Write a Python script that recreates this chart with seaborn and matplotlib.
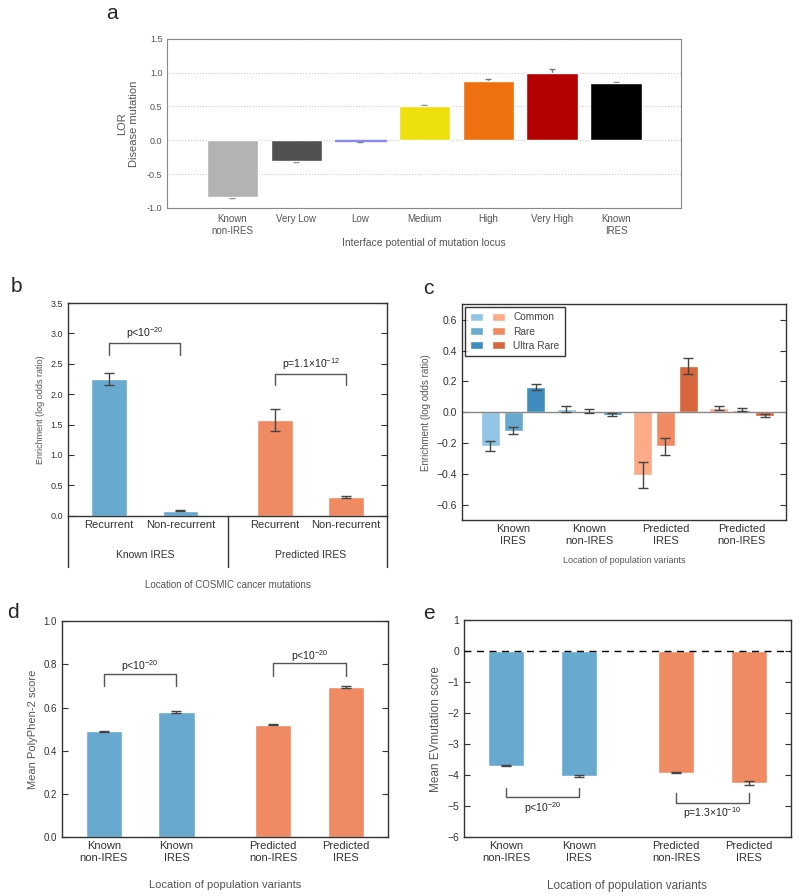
import pandas as pd
import seaborn as sns
import matplotlib
matplotlib.use('Agg')
import matplotlib.pyplot as plt
from matplotlib.patches import Patch
from matplotlib.container import BarContainer
from matplotlib.legend_handler import HandlerTuple
from matplotlib.ticker import FuncFormatter

sns.set_style('white')
plt.rcParams['font.family'] = ['Liberation Sans', 'DejaVu Sans']
plt.rcParams['mathtext.fontset'] = 'custom'
plt.rcParams['mathtext.rm'] = 'Liberation Sans'
plt.rcParams['mathtext.it'] = 'Liberation Sans:italic'
plt.rcParams['mathtext.bf'] = 'Liberation Sans:bold'

# ---- data ----
# a
a_labels = ['Known\nnon-IRES', 'Very Low', 'Low', 'Medium', 'High', 'Very High', 'Known\nIRES']
a_values = [-0.84, -0.30, -0.015, 0.50, 0.877, 1.00, 0.853]
a_errors = [0.01, 0.015, 0.01, 0.02, 0.035, 0.055, 0.01]
a_colors = ['#b3b3b3', '#505050', '#8a8af0', '#eee00c', '#ef700e', '#b50000', '#000000']

# b
b_labels = ['Recurrent', 'Non-recurrent', 'Recurrent', 'Non-recurrent']
b_groups = ['Known IRES', 'Predicted IRES']
b_values = [2.25, 0.08, 1.57, 0.31]
b_errors = [0.095, 0.01, 0.18, 0.01]

# c
c_locations = ['Known\nIRES', 'Known\nnon-IRES', 'Predicted\nIRES', 'Predicted\nnon-IRES']
c_classes = ['Common', 'Rare', 'Ultra Rare']
c_common = [-0.222, 0.022, -0.408, 0.027]
c_rare = [-0.12, 0.01, -0.222, 0.015]
c_ultra = [0.161, -0.015, 0.30, -0.022]
c_common_err = [0.032, 0.02, 0.084, 0.012]
c_rare_err = [0.021, 0.014, 0.057, 0.01]
c_ultra_err = [0.02, 0.012, 0.05, 0.01]

# d, e
de_labels = ['Known\nnon-IRES', 'Known\nIRES', 'Predicted\nnon-IRES', 'Predicted\nIRES']
d_values = [0.49, 0.579, 0.52, 0.696]
d_errors = [0.003, 0.004, 0.002, 0.005]
e_values = [-3.69, -4.02, -3.91, -4.24]
e_errors = [0.02, 0.02, 0.015, 0.07]

# ---- style ----
blue = '#67a9cf'
orange = '#ef8a62'
blues = ['#92c5e6', '#67a9cf', '#3f8dbf']
oranges = ['#fcaa88', '#ef8a62', '#d6663c']
pair_pos = [0, 1, 2.333, 3.333]
pair_colors = [blue, blue, orange, orange]
err_color = '#444444'
label_color = '#555555'
tick_color = '#333333'

fig = plt.figure(figsize=(8, 8.96), dpi=100)


def frame(ax, color='#333333'):
    for s in ax.spines.values():
        s.set_visible(True)
        s.set_color(color)
        s.set_linewidth(1.0)
    ax.tick_params(axis='y', direction='in', left=True, right=True, length=4,
                   color=color, labelsize=7, labelcolor=tick_color)
    ax.tick_params(axis='x', length=0, labelsize=8, labelcolor=tick_color, pad=3)


def bracket(ax, x1, x2, y_leg, y_bar, text, y_text):
    ax.plot([x1, x1, x2, x2], [y_leg, y_bar, y_bar, y_leg], color='#555555', lw=1.0)
    ax.text((x1 + x2) / 2, y_text, text, ha='center', va='center', fontsize=7.5, color='#222222')


def pair_panel(ax, values, errors):
    df = pd.DataFrame({'pos': pair_pos, 'value': values, 'grp': [str(p) for p in pair_pos]})
    sns.barplot(data=df, x='pos', y='value', hue='grp', palette=pair_colors, native_scale=True,
                dodge=False, width=0.5, saturation=1, errorbar=None, legend=False, ax=ax,
                zorder=2)
    ax.errorbar(pair_pos, values, yerr=errors, fmt='none', ecolor=err_color, elinewidth=1,
                capsize=3.5, capthick=1, zorder=3)
    ax.set_xlim(-0.58, 3.91)


# ---- panel a ----
ax = fig.add_axes([0.209, 0.768, 0.6425, 0.1886])
dfa = pd.DataFrame({'label': a_labels, 'value': a_values})
sns.barplot(data=dfa, x='label', y='value', hue='label', palette=a_colors, width=0.8,
            saturation=1, errorbar=None, legend=False, ax=ax, zorder=2)
# the "Low" bar is barely a line; give it an outline so it stays visible
low_bar = ax.patches[a_labels.index('Low')]
low_bar.set_edgecolor(a_colors[2])
low_bar.set_linewidth(1.0)
ax.errorbar(range(len(a_values)), a_values, yerr=a_errors, fmt='none', ecolor='#777777',
            elinewidth=1, capsize=2.5, capthick=1, zorder=1.5)
ax.set_xlim(-1.02, 7.02)
ax.set_ylim(-1.0, 1.5)
ax.set_yticks([-1.0, -0.5, 0.0, 0.5, 1.0, 1.5])
ax.yaxis.set_major_formatter(FuncFormatter(lambda v, p: f'{v:.1f}'))
ax.set_axisbelow(True)
ax.yaxis.grid(True, ls=':', color='#cccccc', lw=0.8)
for s in ax.spines.values():
    s.set_visible(True)
    s.set_color('#888888')
ax.tick_params(axis='both', length=0, labelsize=6.5, labelcolor='#555555')
ax.tick_params(axis='x', labelsize=7, pad=4.5)
ax.set_ylabel('LOR\nDisease mutation', fontsize=8, color=label_color, labelpad=6)
ax.set_xlabel('Interface potential of mutation locus', fontsize=7.5, color=label_color, labelpad=2)
fig.text(0.14, 0.985, 'a', fontsize=15, ha='center', va='center')

# ---- panel b ----
ax = fig.add_axes([0.085, 0.4244, 0.399, 0.2374])
pair_panel(ax, b_values, b_errors)
frame(ax)
ax.set_ylim(0, 3.5)
ax.set_yticks([0, 0.5, 1.0, 1.5, 2.0, 2.5, 3.0, 3.5])
ax.yaxis.set_major_formatter(FuncFormatter(lambda v, p: f'{v:.1f}'))
ax.tick_params(axis='y', labelsize=6.5)
ax.set_xticks(pair_pos)
ax.set_xticklabels(b_labels)
ax.set_xlabel('')
ax.set_ylabel('Enrichment (log odds ratio)', fontsize=6.5, color=label_color)
tr = ax.get_xaxis_transform()
for xv in [-0.58, (pair_pos[1] + pair_pos[2]) / 2, 3.91]:
    ax.plot([xv, xv], [0, -0.24], transform=tr, color='#333333', lw=1.0, clip_on=False)
ax.text((pair_pos[0] + pair_pos[1]) / 2, -0.185, b_groups[0], transform=tr, ha='center',
        va='center', fontsize=7.5, color=tick_color)
ax.text((pair_pos[2] + pair_pos[3]) / 2, -0.185, b_groups[1], transform=tr, ha='center',
        va='center', fontsize=7.5, color=tick_color)
ax.text(0.5, -0.326, 'Location of COSMIC cancer mutations', transform=ax.transAxes,
        ha='center', va='center', fontsize=7, color=label_color)
bracket(ax, pair_pos[0], pair_pos[1], 2.64, 2.84, r'p<10$^{\mathregular{-20}}$', 3.0)
bracket(ax, pair_pos[2], pair_pos[3], 2.15, 2.34, r'p=1.1×10$^{\mathregular{-12}}$', 2.5)
fig.text(0.021, 0.68, 'b', fontsize=15, ha='center', va='center')

# ---- panel c ----
ax = fig.add_axes([0.577, 0.4196, 0.4054, 0.2407])
dfc = pd.DataFrame({
    'location': c_locations * 3,
    'cls': [c for c in c_classes for _ in c_locations],
    'value': c_common + c_rare + c_ultra,
    'err': c_common_err + c_rare_err + c_ultra_err,
})
known = dfc[dfc['location'].isin([c_locations[0], c_locations[1]])]
pred = dfc[dfc['location'].isin([c_locations[2], c_locations[3]])]
for sub, pal in [(known, blues), (pred, oranges)]:
    sns.barplot(data=sub, x='location', y='value', hue='cls', order=c_locations,
                hue_order=c_classes, palette=pal, width=0.9, gap=0.167, saturation=1,
                errorbar=None, legend=False, ax=ax, zorder=2)
bars = [b for cont in list(ax.containers) if isinstance(cont, BarContainer) for b in cont]
for bar in bars:
    xc = bar.get_x() + bar.get_width() / 2
    gi = int(round(xc))
    ci = int(round((xc - gi) / 0.3)) + 1
    row = dfc[(dfc['location'] == c_locations[gi]) & (dfc['cls'] == c_classes[ci])].iloc[0]
    ax.errorbar(xc, row['value'], yerr=row['err'], fmt='none', ecolor=err_color,
                elinewidth=1, capsize=3.5, capthick=1, zorder=3)
ax.axhline(0, color='#888888', lw=1.0, zorder=2.5)
frame(ax)
ax.set_xlim(-0.675, 3.58)
ax.set_ylim(-0.7, 0.7)
ax.set_yticks([-0.6, -0.4, -0.2, 0.0, 0.2, 0.4, 0.6])
ax.tick_params(axis='y', labelsize=7.5)
ax.set_ylabel('Enrichment (log odds ratio)', fontsize=7, color=label_color)
ax.set_xlabel('Location of population variants', fontsize=6.5, color=label_color, labelpad=7)
handles = [(Patch(fc=blues[i]), Patch(fc=oranges[i])) for i in range(3)]
leg = ax.legend(handles, c_classes, handler_map={tuple: HandlerTuple(ndivide=None, pad=0.8)},
                loc='upper left', fontsize=7.3, frameon=True, fancybox=False, edgecolor='black',
                handlelength=3.5, handleheight=0.8, borderaxespad=0.3, labelspacing=0.4,
                handletextpad=0.8, borderpad=0.5)
leg.get_frame().set_linewidth(1.0)
for t in leg.get_texts():
    t.set_color('#444444')
fig.text(0.535, 0.678, 'c', fontsize=15, ha='center', va='center')

# ---- panel d ----
ax = fig.add_axes([0.0771, 0.0655, 0.4075, 0.2414])
pair_panel(ax, d_values, d_errors)
frame(ax)
ax.set_ylim(0, 1.0)
ax.set_yticks([0, 0.2, 0.4, 0.6, 0.8, 1.0])
ax.yaxis.set_major_formatter(FuncFormatter(lambda v, p: f'{v:.1f}'))
ax.set_xticks(pair_pos)
ax.set_xticklabels(de_labels)
ax.set_ylabel('Mean PolyPhen-2 score', fontsize=8, color=label_color)
ax.set_xlabel('Location of population variants', fontsize=8, color=label_color, labelpad=12)
bracket(ax, pair_pos[0], pair_pos[1], 0.70, 0.753, r'p<10$^{\mathregular{-20}}$', 0.79)
bracket(ax, pair_pos[2], pair_pos[3], 0.747, 0.804, r'p<10$^{\mathregular{-20}}$', 0.84)
fig.text(0.016, 0.316, 'd', fontsize=15, ha='center', va='center')

# ---- panel e ----
ax = fig.add_axes([0.58, 0.0655, 0.4084, 0.2422])
pair_panel(ax, e_values, e_errors)
ax.axhline(0, color='black', lw=1.0, ls='--', dashes=(5, 4), zorder=3)
frame(ax)
ax.set_ylim(-6, 1)
ax.set_yticks(range(-6, 2))
ax.tick_params(axis='y', labelsize=7.5)
ax.set_xticks(pair_pos)
ax.set_xticklabels(de_labels)
ax.set_ylabel('Mean EVmutation score', fontsize=8.5, color=label_color)
ax.set_xlabel('Location of population variants', fontsize=8.5, color=label_color, labelpad=12)
bracket(ax, pair_pos[0], pair_pos[1], -4.40, -4.71, r'p<10$^{\mathregular{-20}}$', -5.07)
bracket(ax, pair_pos[2], pair_pos[3], -4.58, -4.90, r'p=1.3×10$^{\mathregular{-10}}$', -5.23)
fig.text(0.536, 0.315, 'e', fontsize=15, ha='center', va='center')

fig.savefig('out.png', dpi=100)
